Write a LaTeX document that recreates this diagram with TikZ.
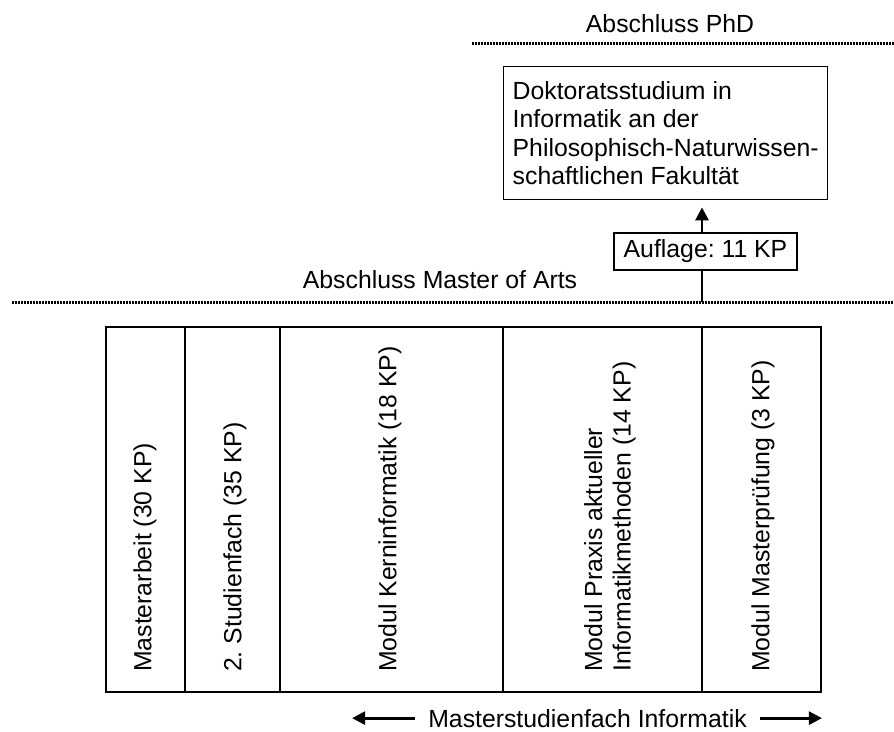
\documentclass[tikz,border=0pt]{standalone}
\usepackage{fontspec}
\setmainfont{Liberation Sans}
\usetikzlibrary{arrows.meta}
\frenchspacing
\begin{document}
\begin{tikzpicture}[x=1pt,y=-1pt,
  every node/.style={font=\fontsize{24.8}{28.4}\selectfont},
  thinline/.style={line width=1.4pt},
  thickline/.style={line width=2.4pt},
  dotline/.style={line width=3pt, dash pattern=on 2pt off 1pt},
  vlabel/.style={rotate=90, anchor=west, inner sep=0pt, align=left},
  lbl/.style={inner sep=0pt, anchor=base},
  arr/.style={line width=2.8pt, -{Triangle[width=13pt,length=13pt]}}]
\useasboundingbox (0,0) rectangle (894,731);

% dotted lines
\coordinate (d1l) at (472,43);
\coordinate (d1r) at (894,43);
\coordinate (d2l) at (12,302);
\coordinate (d2r) at (894,302);
\draw[dotline] (d1l) -- (d1r);
\draw[dotline] (d2l) -- (d2r);

\node[lbl] (phd) at (670,32) {Abschluss PhD};
\node[lbl] (ma) at (440,288) {Abschluss Master of Arts};

% doctorate box
\node[draw, thinline, anchor=north west, align=left,
      inner xsep=9pt, inner ysep=0pt, minimum height=133pt, minimum width=321pt] (dok) at (503,66)
  {Doktoratsstudium in\\Informatik an der\\Philosophisch-Naturwissen-\\schaftlichen Fakultät};

% arrow with requirement
\coordinate (a0) at (702,302);
\draw[arr, shorten >=7pt] (a0) -- (a0 |- dok.south);
\node[draw, thinline, fill=white, minimum width=183pt, minimum height=37pt, inner sep=0pt]
  (aufl) at (705.5,251.5) {Auflage: 11 KP};

% module table
\draw[thinline] (106,327) rectangle (821,692);
\draw[thinline] (185,327) -- (185,692);
\draw[thinline] (503,327) -- (503,692);
\draw[thinline] (702,327) -- (702,692);
\draw[thickline] (280,327) rectangle (821,692);

\node[vlabel] (m1) at (145,672) {Masterarbeit (30 KP)};
\node[vlabel] (m2) at (235,672) {2. Studienfach (35 KP)};
\node[vlabel] (m3) at (390,672) {Modul Kerninformatik (18 KP)};
\node[vlabel] (m4) at (610,672) {Modul Praxis aktueller\\Informatikmethoden (14 KP)};
\node[vlabel] (m5) at (763,672) {Modul Masterprüfung (3 KP)};

% bottom label
\node[lbl] (msf) at (587.5,727) {Masterstudienfach Informatik};
\draw[arr] ([xshift=-13pt]msf.west) -- ++(-63,0);
\draw[arr] ([xshift=13pt]msf.east) -- ++(62,0);
\end{tikzpicture}
\end{document}
